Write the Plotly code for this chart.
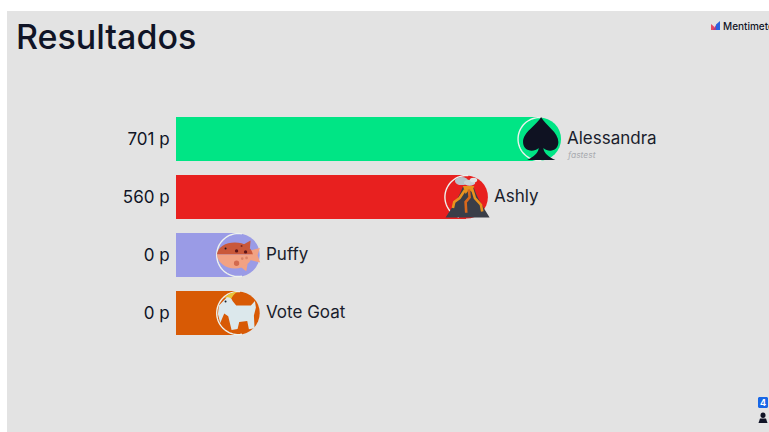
import re
import math
import numpy as np
import plotly.graph_objects as go

# Poll results
names = ["Alessandra", "Ashly", "Puffy", "Vote Goat"]
scores = [701, 560, 0, 0]
score_labels = ["701 p", "560 p", "0 p", "0 p"]
bar_colors = ["#00e585", "#e8201f", "#9a9be6", "#d85a05"]
title_text = "Resultados"
brand_text = "Mentimeter"
voter_count = "4"

# A bar never gets shorter than this, so an avatar always fits at its end
MIN_BAR = 120

FONT = "Inter"
INK = "#101426"
PX_PER_POINT = 0.5186
LEFT = 176
W, H = 769, 432

ends = np.maximum(scores, MIN_BAR)


def icon_path(spec, ox, oy):
    """Convert a path on a 3x icon grid to pixel offsets from the icon centre (y up)."""
    nums = iter(re.findall(r"-?\d+\.?\d*|[A-Za-z]", spec))
    out = []
    for tok in nums:
        if tok.isalpha():
            out.append(tok)
        else:
            gy = float(next(nums))
            out.append(f"{(float(tok) - ox) / 3:.2f},{(oy - gy) / 3:.2f}")
    return " ".join(out)


def pixel_shape(i, **kw):
    return dict(
        xref="x", yref="y", xsizemode="pixel", ysizemode="pixel",
        xanchor=float(ends[i]), yanchor=names[i], layer="above", **kw
    )


def path_shape(i, spec, origin, fill=None, line=None, width=0):
    return pixel_shape(
        i, type="path", path=icon_path(spec, *origin),
        fillcolor=fill or "rgba(0,0,0,0)",
        line=dict(color=line or "rgba(0,0,0,0)", width=width),
    )


def blob(i, gx, gy, rx, ry, origin, fill):
    """Ellipse given on the icon grid."""
    ox, oy = origin
    return pixel_shape(
        i, type="circle",
        x0=(gx - rx - ox) / 3, x1=(gx + rx - ox) / 3,
        y0=(oy - gy - ry) / 3, y1=(oy - gy + ry) / 3,
        fillcolor=fill, line=dict(width=0),
    )


def ring(i, a0, a1):
    """Pale arc that outlines the avatar's left side."""
    steps = np.radians(np.linspace(a0, a1, 40))
    d = "M" + " L".join(f"{21.5 * math.cos(a):.2f},{21.5 * math.sin(a):.2f}" for a in steps)
    return pixel_shape(i, type="path", path=d, line=dict(color="#eef2ee", width=1.4))


shapes = [
    # Slide background
    dict(type="rect", xref="paper", yref="paper", layer="below",
         x0=(7 - LEFT) / (W - LEFT), x1=1, y0=0, y1=1 - 11 / H,
         fillcolor="#e3e3e3", line=dict(width=0)),
]

# Spade
o = (88.5, 87)
shapes += [
    ring(0, 85, 275),
    path_shape(0, "M 93 21 C 108 48 145 66 145 96 C 145 124 116 128 100 114 "
                  "C 101 130 118 142 136 150 L 51 150 C 68 142 85 130 86 114 "
                  "C 70 128 39 124 39 96 C 39 66 78 48 93 21 Z", o, fill="#0f1222"),
]

# Volcano
o = (88.5, 81)
shapes += [
    ring(1, 85, 250),
    path_shape(1, "M 78 50 L 110 50 C 118 78 134 104 158 142 L 26 142 C 48 110 66 82 78 50 Z",
               o, fill="#3a3e48"),
    path_shape(1, "M 78 48 L 112 48 L 106 66 L 96 60 L 86 72 Z", o, fill="#e8931e"),
    path_shape(1, "M 84 60 L 68 84 L 52 96 L 48 114", o, line="#e8931e", width=2.6),
    path_shape(1, "M 96 58 L 98 82 L 86 96 L 88 128", o, line="#d9681c", width=2.6),
    path_shape(1, "M 106 58 L 114 84 L 132 104 L 136 124", o, line="#e8931e", width=2.6),
    blob(1, 74, 33, 20, 12, o, "#b7c3ca"),
    blob(1, 98, 38, 17, 9, o, "#c9d2d7"),
    blob(1, 110, 30, 11, 7, o, "#dfe4e6"),
]

# Pufferfish
o = (90, 79.5)
shapes += [
    ring(2, 80, 280),
    path_shape(2, "M 126 66 L 155 58 L 148 80 L 156 102 L 126 94 Z", o, fill="#f2a283"),
    path_shape(2, "M 102 50 L 127 36 L 125 60 Z", o, fill="#c9583a"),
    path_shape(2, "M 94 112 L 118 106 L 114 128 Z", o, fill="#f2a283"),
    path_shape(2, "M 26 78 C 28 56 52 42 80 42 C 108 42 130 56 134 78 Z", o, fill="#c9583a"),
    path_shape(2, "M 26 78 C 28 102 52 120 80 120 C 108 120 130 102 134 78 Z", o, fill="#f2a283"),
    blob(2, 52, 60, 3, 3, o, "#1c1620"),
    blob(2, 85, 67, 5, 5, o, "#5c1418"),
    blob(2, 112, 70, 5, 5, o, "#5c1418"),
    blob(2, 100, 52, 3, 3, o, "#7d2a22"),
    blob(2, 85, 104, 8, 8, o, "#d26a4f"),
    blob(2, 102, 90, 4, 4, o, "#d98266"),
    blob(2, 115, 88, 4, 4, o, "#d98266"),
]

# Goat
o = (90, 82.5)
shapes += [
    ring(3, 85, 280),
    path_shape(3, "M 50 36 C 58 26 70 19 86 19 C 78 24 72 32 68 42 Z", o, fill="#e9c53a"),
    path_shape(3, "M 56 35 C 64 34 70 38 73 46 L 84 60 L 128 60 L 140 46 L 143 66 L 137 90 "
                  "L 139 128 L 122 131 L 117 106 L 93 109 L 88 130 L 70 133 L 60 92 "
                  "L 48 84 L 36 112 L 29 85 L 32 60 Z", o, fill="#dce8ec"),
    blob(3, 52, 48, 3, 3, o, "#15202c"),
]


# Mentimeter mark and voter badge sit in slide pixels, so they go in paper space
def px(x):
    return (x - LEFT) / (W - LEFT)


def py(y):
    return 1 - y / H


def paper_poly(points, fill):
    d = "M" + " L".join(f"{px(x):.5f},{py(y):.5f}" for x, y in points) + " Z"
    return dict(type="path", xref="paper", yref="paper", path=d, fillcolor=fill,
                line=dict(width=0), layer="above")


shapes += [
    paper_poly([(711, 24), (714.5, 27), (714.5, 30), (711, 30)], "#e8485f"),
    paper_poly([(713, 30), (716, 25), (716, 30)], "#a63f8f"),
    paper_poly([(716, 24.5), (720, 21), (720, 30), (716, 30)], "#2a62e0"),
    paper_poly([(759, 397), (767, 397), (768, 398), (768, 407), (767, 408),
                (759, 408), (758, 407), (758, 398)], "#1767e6"),
    dict(type="circle", xref="paper", yref="paper", layer="above",
         x0=px(760.5), x1=px(765.5), y0=py(418), y1=py(412.5),
         fillcolor="#101426", line=dict(width=0)),
    paper_poly([(758.5, 423), (760, 418.5), (766, 418.5), (767.5, 423)], "#101426"),
]

fig = go.Figure()

# Square-ended bar running to the avatar centre
fig.add_trace(go.Bar(
    x=ends, y=names, orientation="h", width=0.75,
    marker=dict(color=bar_colors, line=dict(width=0)),
    hoverinfo="skip", showlegend=False,
))

# Round cap behind each avatar
fig.add_trace(go.Scatter(
    x=ends, y=names, mode="markers",
    marker=dict(size=43, color=bar_colors, line=dict(width=0)),
    hoverinfo="skip", showlegend=False, cliponaxis=False,
))

annotations = [
    dict(x=float(e), y=n, xref="x", yref="y", text=n, showarrow=False, xanchor="left",
         xshift=25.5, yshift=1, font=dict(family=FONT, size=17, color="#1a1d2c"))
    for e, n in zip(ends, names)
]
annotations += [
    dict(x=float(ends[0]), y=names[0], xref="x", yref="y", text="<i>fastest</i>", showarrow=False,
         xanchor="left", xshift=25.5, yshift=-16, font=dict(family=FONT, size=8.5, color="#a9abb0")),
    dict(x=px(14), y=py(36), xref="paper", yref="paper", text=title_text, showarrow=False,
         xanchor="left", yanchor="middle",
         font=dict(family=FONT, size=34, color=INK, weight=500)),
    dict(x=px(720.5), y=py(25.5), xref="paper", yref="paper", text=brand_text, showarrow=False,
         xanchor="left", yanchor="middle", font=dict(family=FONT, size=10, color=INK, weight=500)),
    dict(x=px(763), y=py(402.5), xref="paper", yref="paper", text=voter_count, showarrow=False,
         xanchor="center", yanchor="middle", font=dict(family=FONT, size=9, color="white", weight=700)),
]

fig.update_layout(
    width=W, height=H,
    margin=dict(l=LEFT, r=0, t=0, b=0),
    paper_bgcolor="white",
    plot_bgcolor="rgba(0,0,0,0)",
    shapes=shapes,
    annotations=annotations,
    bargap=0,
    xaxis=dict(range=[0, (W - LEFT) / PX_PER_POINT], visible=False, fixedrange=True),
    yaxis=dict(
        type="category", categoryorder="array", categoryarray=names,
        range=[5.05, -2.397], fixedrange=True,
        tickmode="array", tickvals=names, ticktext=score_labels,
        showgrid=False, zeroline=False, showline=False, automargin=False,
        ticks="outside", ticklen=2, tickcolor="rgba(0,0,0,0)",
        tickfont=dict(family=FONT, size=17, color=INK),
    ),
)

fig.write_html("out.html", config={"displayModeBar": False})
